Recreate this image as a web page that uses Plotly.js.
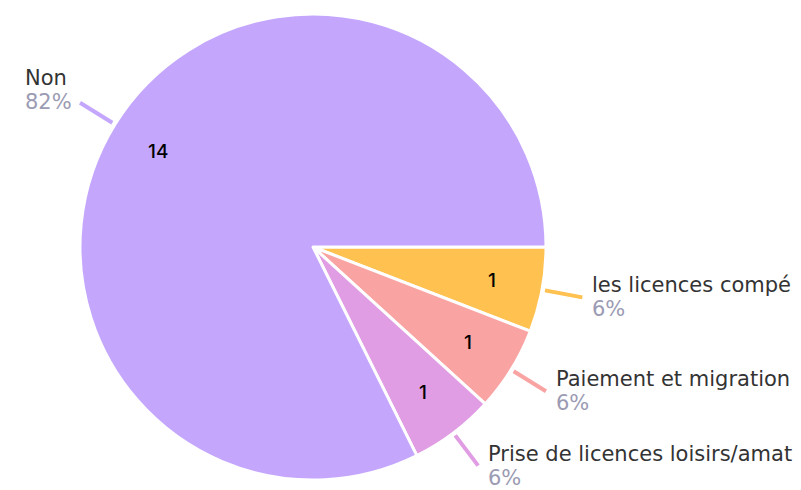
<!DOCTYPE html>
<html>
<head>
<meta charset="utf-8">
<script src="https://cdn.plot.ly/plotly-3.0.1.min.js"></script>
<style>html,body{margin:0;padding:0;background:#fff;}#chart{width:801px;height:490px;}</style>
</head>
<body>
<div id="chart"></div>
<script>
// Data
const categories = ["les licences compé", "Paiement et migration", "Prise de licences loisirs/amat", "Non"];
const values = [1, 1, 1, 14];
const colors = ["#ffc14f", "#f9a3a3", "#e09de3", "#c4a7fd"];

// Layout constants
const W = 801, H = 490;
const cx = 313, cy = 247, R = 233;
const FONT = "'DejaVu Sans', sans-serif";
const NUM_FONT = "Inter, 'DejaVu Sans', sans-serif";
const NAME_COLOR = "#333333";
const PCT_COLOR = "#9b9bb3";

const total = values.reduce((a, b) => a + b, 0);
const px = x => x / W;
const py = y => 1 - y / H;

const shapes = [];
const annotations = [];
let cum = 0;
values.forEach((v, i) => {
  const mid = 2 * Math.PI * (cum + v / 2) / total; // clockwise from 3 o'clock
  cum += v;
  const c = Math.cos(mid), s = Math.sin(mid);
  const r0 = R + 3, r1 = R + 41;
  const x0 = cx + r0 * c, y0 = cy + r0 * s;
  const x1 = cx + r1 * c, y1 = cy + r1 * s;
  shapes.push({
    type: "line", xref: "paper", yref: "paper",
    x0: px(x0), y0: py(y0), x1: px(x1), y1: py(y1),
    line: { color: colors[i], width: 4 }
  });
  const pct = Math.round(100 * v / total) + "%";
  const right = c >= 0;
  // outside label: name + percent
  annotations.push({
    xref: "paper", yref: "paper",
    x: px(right ? x1 + 8 : x1 - 6), y: py(y1),
    xanchor: right ? "left" : "right", yanchor: "middle",
    yshift: s < 0 ? 13 : 0,
    align: "left", showarrow: false,
    text: "<span style='font-size:21px'>" + categories[i] + "</span><br>" +
          "<span style='font-size:21px;color:" + PCT_COLOR + "'>" + pct + "</span>",
    font: { family: FONT, size: 18.5, color: NAME_COLOR }
  });
  // inside value
  const ri = R * 0.78;
  annotations.push({
    xref: "paper", yref: "paper",
    x: px(cx + ri * c), y: py(cy + ri * s),
    xanchor: "center", yanchor: "middle",
    showarrow: false,
    text: String(v),
    font: { family: NUM_FONT, size: 19, color: "#000000", weight: 500 }
  });
});

const trace = {
  type: "pie",
  labels: categories,
  values: values,
  sort: false,
  direction: "clockwise",
  rotation: 90,
  marker: { colors: colors, line: { color: "#ffffff", width: 3 } },
  textinfo: "none",
  hoverinfo: "none",
  domain: { x: [px(cx - R), px(cx + R)], y: [py(cy + R), py(cy - R)] },
  showlegend: false
};

const layout = {
  width: W, height: H,
  margin: { l: 0, r: 0, t: 0, b: 0 },
  paper_bgcolor: "#ffffff",
  showlegend: false,
  shapes: shapes,
  annotations: annotations
};

Plotly.newPlot("chart", [trace], layout, { displayModeBar: false, staticPlot: true });
</script>
</body>
</html>
